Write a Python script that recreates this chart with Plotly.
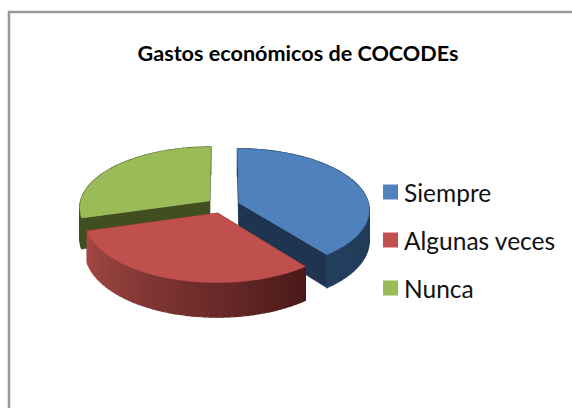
import numpy as np
import plotly.graph_objects as go

categories = ['Siempre', 'Algunas veces', 'Nunca']
values = [39.5, 31.0, 29.5]
title = 'Gastos económicos de COCODEs'

top_colors = ['#4F81BD', '#C0504D', '#9BBB59']
cut_colors = ['#1E3450', '#5A1F1D', '#404E20']
wall_left = ['#24405F', '#A84B48', '#4C5E27']
wall_right = ['#1C3049', '#4A1A19', '#404E20']

W, H = 572, 408
CX, CY = 223, 205.5
RX, RY = 130, 60.5
PERSP = 0.105
DEPTH = 30.5
EXPLODE = 0.13
FONT = 'Lato'


def project(u, v, z=0):
    s = 1 + PERSP * v
    return CX + RX * u / s, CY - RY * v / s + DEPTH * z / s


def mix(c1, c2, t):
    a = [int(c1[i:i + 2], 16) for i in (1, 3, 5)]
    b = [int(c2[i:i + 2], 16) for i in (1, 3, 5)]
    return 'rgb(%d,%d,%d)' % tuple(a[i] + (b[i] - a[i]) * t for i in range(3))


def poly(fig, x, y, color, lw=0.6):
    fig.add_trace(go.Scatter(x=list(x) + [x[0]], y=list(y) + [y[0]], mode='lines', fill='toself',
                             fillcolor=color, line=dict(color=color, width=lw),
                             hoverinfo='skip', showlegend=False))


fig = go.Figure()

# slice angles, clockwise from the top
edges = np.concatenate([[0], np.cumsum(values)]) / sum(values) * 2 * np.pi
slices = []
for i in range(len(values)):
    a0, a1 = edges[i], edges[i + 1]
    mid = (a0 + a1) / 2
    slices.append((i, a0, a1, EXPLODE * np.sin(mid), EXPLODE * np.cos(mid)))

# back slices first, red sits in front
for i, a0, a1, du, dv in [slices[2], slices[0], slices[1]]:
    t = np.linspace(a0, a1, 48)
    u = du + np.sin(t)
    v = dv + np.cos(t)
    # cut faces
    for a in (a0, a1):
        ue, ve = du + np.sin(a), dv + np.cos(a)
        xa, ya = project(np.array([du, ue]), np.array([dv, ve]))
        xb, yb = project(np.array([ue, du]), np.array([ve, dv]), 1)
        poly(fig, np.r_[xa, xb], np.r_[ya, yb], cut_colors[i])
    # walls as narrow strips so the shading can run along the rim
    for k in range(len(t) - 1):
        frac = (a1 - t[k]) / (a1 - a0)
        xa, ya = project(u[k:k + 2], v[k:k + 2])
        xb, yb = project(u[k:k + 2][::-1], v[k:k + 2][::-1], 1)
        poly(fig, np.r_[xa, xb], np.r_[ya, yb], mix(wall_left[i], wall_right[i], frac), 1.2)
    x, y = project(np.r_[du, u], np.r_[dv, v])
    poly(fig, x, y, top_colors[i])

# legend, spaced the way the original one is
leg_y = [192, 240, 288]
fig.add_trace(go.Scatter(x=[390.5] * 3, y=leg_y, mode='markers', hoverinfo='skip', showlegend=False,
                         marker=dict(symbol='square', size=15, color=top_colors, line_width=0)))
for name, yy in zip(categories, leg_y):
    fig.add_annotation(x=402, y=yy, text=name, showarrow=False, xanchor='left', yanchor='middle',
                       font=dict(family=FONT, size=24.5, color='#111111'))

fig.add_shape(type='rect', x0=9, y0=12, x1=W + 5, y1=H + 5, line=dict(color='#999999', width=2.5))

fig.update_xaxes(range=[0, W], visible=False, fixedrange=True)
fig.update_yaxes(range=[H, 0], visible=False, fixedrange=True)
fig.update_layout(
    title=dict(text='<b>%s</b>' % title, x=298 / W, xanchor='center', y=1 - 53 / H, yanchor='middle',
               font=dict(family=FONT, size=21.6, color='#000000')),
    width=W,
    height=H,
    autosize=False,
    margin=dict(l=0, r=0, t=0, b=0),
    plot_bgcolor='white',
    paper_bgcolor='white',
    showlegend=False)

fig.write_html('out.html', config={'displayModeBar': False},
               post_script='document.body.style.margin="0";')
